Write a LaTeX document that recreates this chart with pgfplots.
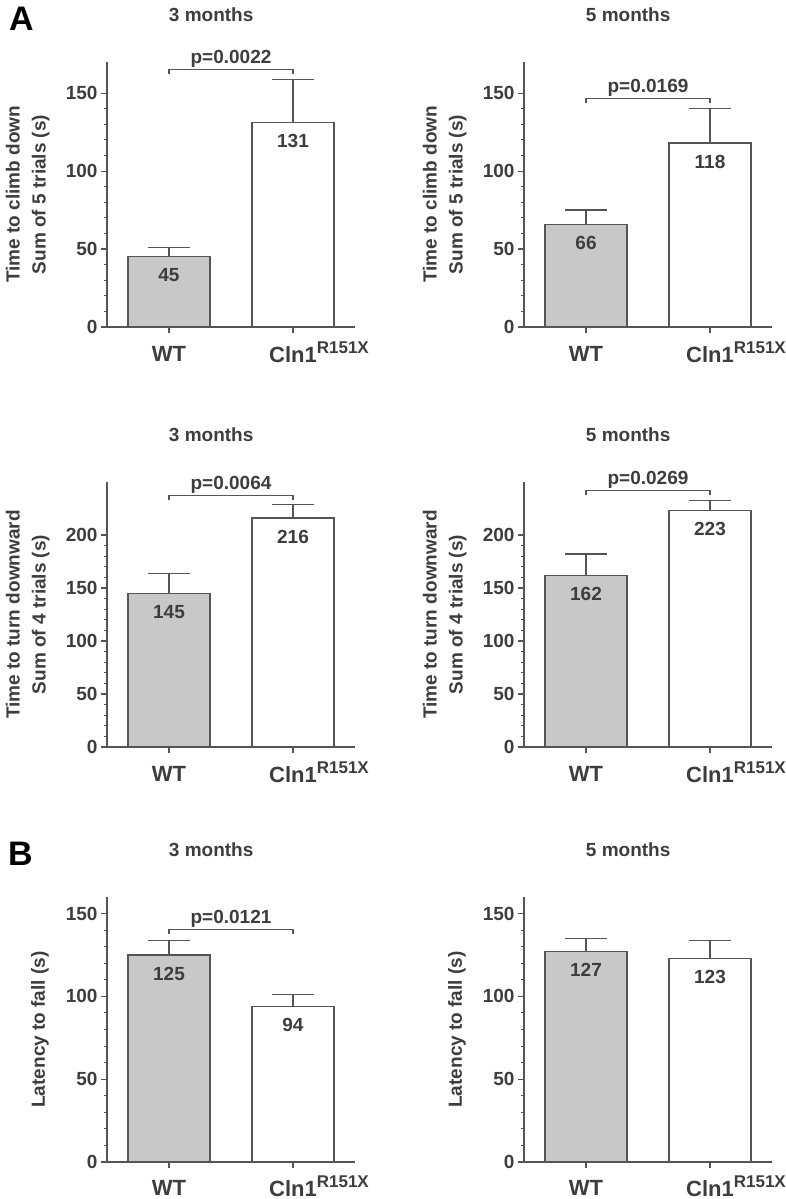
\documentclass[border=0pt]{standalone}
\usepackage{pgfplots}
\pgfplotsset{compat=1.18}
\usepackage{fontspec}
\setmainfont{Liberation Sans}
\definecolor{txt}{HTML}{3D3D3D}
\definecolor{axc}{HTML}{555555}
\definecolor{barg}{HTML}{C8C8C8}
\newcommand{\fs}{\fontsize{19}{26}\selectfont\bfseries}
\newcommand{\cln}{Cln1\rlap{\smash{\raisebox{9pt}{\fontsize{17}{17}\selectfont\bfseries R151X}}}}
\pgfplotsset{
  panel/.style={
    scale only axis, width=248pt, height=265pt,
    axis lines*=left,
    axis line style={axc, line width=1.3pt},
    every tick/.style={axc, line width=1.1pt},
    tick align=outside,
    major tick length=6pt, minor tick length=3.5pt,
    xmin=-0.5, xmax=1.5, xtick={0,1},
    xticklabels={WT, \cln},
    ymin=0, minor y tick num=4,
    yticklabel style={font=\fs, text=txt},
    xticklabel style={font=\fontsize{22}{24}\selectfont\bfseries, text=txt, yshift=-10pt},
    /pgf/number format/assume math mode=true,
    every axis y label/.style={at={(axis description cs:-0.32,0.5)}, rotate=90, anchor=center, font=\fs, text=txt, align=center},
    every axis title/.style={at={(axis description cs:0.42,1.177)}, anchor=center, font=\fs, text=txt},
    clip=false,
  },
  barbase/.style={ybar, bar width=82pt, bar shift=0pt, draw=axc, line width=1.2pt,
    nodes near coords,
    every node near coord/.append style={font=\fs, text=txt, anchor=center, yshift=-18.5pt},
    /pgfplots/error bars/y dir=plus, /pgfplots/error bars/y explicit,
    /pgfplots/error bars/error mark=|,
    /pgfplots/error bars/error mark options={axc, line width=1.2pt, mark size=21pt},
    /pgfplots/error bars/error bar style={axc, line width=1.2pt}},
  wt/.style={barbase, fill=barg},
  ko/.style={barbase, fill=white},
  brk/.style={axc, line width=1.1pt, sharp plot, mark=none},
}
\newcommand{\pval}[2]{\node[font=\fs, text=txt, anchor=center] at (axis cs:0.5,#1) [yshift=10.5pt] {#2};}
\begin{document}
\begin{tikzpicture}
\path[use as bounding box] (0,0) rectangle (786pt,1199pt);
\node[font=\fontsize{34}{34}\selectfont\bfseries, text=black] at (21.5pt,1180.5pt) {A};
\node[font=\fontsize{34}{34}\selectfont\bfseries, text=black] at (20.5pt,345pt) {B};

% top-left
\begin{axis}[panel, at={(107pt,872pt)}, anchor=south west, ymax=170, ytick={0,50,100,150},
  ylabel={Time to climb down\\Sum of 5 trials (s)}, title={3 months}]
\addplot[wt] coordinates {(0,45) +- (0,6)};
\addplot[ko] coordinates {(1,131) +- (0,27.6)};
\addplot[brk] coordinates {(0,162.3) (0,165) (1,165) (1,162.3)};
\pval{165}{p=0.0022}
\end{axis}

% top-right
\begin{axis}[panel, at={(524pt,872pt)}, anchor=south west, ymax=170, ytick={0,50,100,150},
  ylabel={Time to climb down\\Sum of 5 trials (s)}, title={5 months}]
\addplot[wt] coordinates {(0,66) +- (0,9)};
\addplot[ko] coordinates {(1,118) +- (0,22.2)};
\addplot[brk] coordinates {(0,144) (0,146.8) (1,146.8) (1,144)};
\pval{146.8}{p=0.0169}
\end{axis}

% middle-left
\begin{axis}[panel, at={(107pt,452pt)}, anchor=south west, ymax=250, ytick={0,50,100,150,200},
  ylabel={Time to turn downward\\Sum of 4 trials (s)}, title={3 months}]
\addplot[wt] coordinates {(0,145) +- (0,19)};
\addplot[ko] coordinates {(1,216) +- (0,12.7)};
\addplot[brk] coordinates {(0,233) (0,237) (1,237) (1,233)};
\pval{237}{p=0.0064}
\end{axis}

% middle-right
\begin{axis}[panel, at={(524pt,452pt)}, anchor=south west, ymax=250, ytick={0,50,100,150,200},
  ylabel={Time to turn downward\\Sum of 4 trials (s)}, title={5 months}]
\addplot[wt] coordinates {(0,162) +- (0,20)};
\addplot[ko] coordinates {(1,223) +- (0,9.2)};
\addplot[brk] coordinates {(0,238) (0,241.7) (1,241.7) (1,238)};
\pval{241.7}{p=0.0269}
\end{axis}

% bottom-left
\begin{axis}[panel, at={(107pt,37pt)}, anchor=south west, ymax=160, ytick={0,50,100,150},
  ylabel={Latency to fall (s)}, title={3 months},
  every axis y label/.append style={at={(axis description cs:-0.27,0.5)}},
  xticklabel style={yshift=1pt}]
\addplot[wt] coordinates {(0,125) +- (0,8.8)};
\addplot[ko] coordinates {(1,94) +- (0,7.1)};
\addplot[brk] coordinates {(0,137.4) (0,140.3) (1,140.3) (1,137.4)};
\pval{140.3}{p=0.0121}
\end{axis}

% bottom-right
\begin{axis}[panel, at={(524pt,37pt)}, anchor=south west, ymax=160, ytick={0,50,100,150},
  ylabel={Latency to fall (s)}, title={5 months},
  every axis y label/.append style={at={(axis description cs:-0.27,0.5)}},
  xticklabel style={yshift=1pt}]
\addplot[wt] coordinates {(0,127) +- (0,7.8)};
\addplot[ko] coordinates {(1,123) +- (0,10.8)};
\end{axis}
\end{tikzpicture}
\end{document}
